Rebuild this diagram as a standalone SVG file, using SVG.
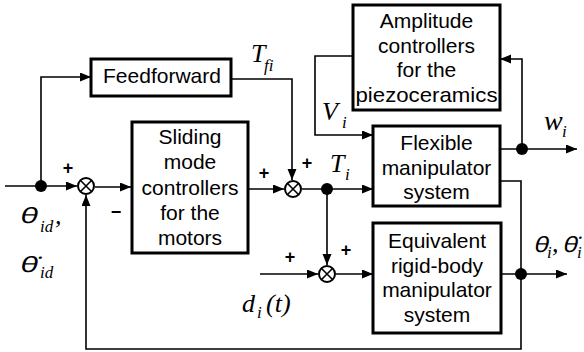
<svg xmlns="http://www.w3.org/2000/svg" width="584" height="352" viewBox="0 0 584 352">
<style>
.box{fill:#fff;stroke:#000;stroke-width:3}
.bt{font-family:"Liberation Sans",Arial,sans-serif;font-size:21px;text-anchor:middle;fill:#000}
.ln{fill:none;stroke:#000;stroke-width:1.6}
.arr{marker-end:url(#ah)}
.sum{fill:#fff;stroke:#000;stroke-width:2}
.dot{fill:#000}
.sg{font-family:"Liberation Sans",Arial,sans-serif;font-size:18px;font-weight:bold;text-anchor:middle;fill:#000}
.m{font-family:"Liberation Serif","Times New Roman",serif;font-style:italic;font-size:26px;fill:#000}
.s{font-family:"Liberation Serif","Times New Roman",serif;font-style:italic;font-size:17px;fill:#000}
.th{font-family:"Noto Sans",sans-serif;font-size:21px;fill:#000}
</style>
<defs>
<marker id="ah" markerUnits="userSpaceOnUse" markerWidth="12" markerHeight="10" refX="11" refY="4.5" orient="auto">
<path d="M0,0 L11,4.5 L0,9 z" fill="#000"/>
</marker>
</defs>
<rect width="584" height="352" fill="#fff"/>

<g id="connectors">
<path class="ln arr" d="M5,186 H77"/>
<path class="ln arr" d="M41,186 V77 H91"/>
<path class="ln arr" d="M95,187 H131"/>
<path class="ln arr" d="M248,189 H284"/>
<path class="ln arr" d="M231,79 H292 V180"/>
<path class="ln arr" d="M302,189 H373"/>
<path class="ln arr" d="M327,189 V265"/>
<path class="ln arr" d="M260,274 H318"/>
<path class="ln arr" d="M336,274 H373"/>
<path class="ln arr" d="M353,56 H315 V135 H373"/>
<path class="ln arr" d="M500,149 H577"/>
<path class="ln arr" d="M522,149 V59 H500"/>
<path class="ln arr" d="M500,181 H521 V349 H86 V195"/>
<path class="ln arr" d="M501,274 H567"/>
</g>

<g id="input-dot"><circle class="dot" cx="41" cy="186" r="6"/></g>
<g id="ti-dot"><circle class="dot" cx="327" cy="189" r="6"/></g>
<g id="w-dot"><circle class="dot" cx="522" cy="149" r="6"/></g>
<g id="theta-dot"><circle class="dot" cx="521" cy="274" r="6"/></g>

<g id="sum1"><circle class="sum" cx="86" cy="186" r="8"/><path class="ln" stroke-width="2" d="M80.3,180.3 L91.7,191.7 M91.7,180.3 L80.3,191.7"/></g>
<g id="sum2"><circle class="sum" cx="293" cy="189" r="8"/><path class="ln" stroke-width="2" d="M287.3,183.3 L298.7,194.7 M298.7,183.3 L287.3,194.7"/></g>
<g id="sum3"><circle class="sum" cx="327" cy="274" r="8"/><path class="ln" stroke-width="2" d="M321.3,268.3 L332.7,279.7 M332.7,268.3 L321.3,279.7"/></g>

<g id="feedforward">
<rect class="box" x="91" y="59" width="140" height="37"/>
<text class="bt" x="162" y="83">Feedforward</text>
</g>

<g id="sliding">
<rect class="box" x="132" y="122" width="116" height="131"/>
<text class="bt" x="190" y="144">Sliding</text>
<text class="bt" x="190" y="169">mode</text>
<text class="bt" x="190" y="195">controllers</text>
<text class="bt" x="190" y="220">for the</text>
<text class="bt" x="190" y="245">motors</text>
</g>

<g id="amplitude">
<rect class="box" x="353" y="5" width="147" height="105"/>
<text class="bt" x="426.5" y="28">Amplitude</text>
<text class="bt" x="426.5" y="52.5">controllers</text>
<text class="bt" x="426.5" y="77">for the</text>
<text class="bt" x="426.5" y="101.5" textLength="142" lengthAdjust="spacingAndGlyphs">piezoceramics</text>
</g>

<g id="flexible">
<rect class="box" x="373" y="126" width="127" height="80"/>
<text class="bt" x="436.5" y="150">Flexible</text>
<text class="bt" x="436.5" y="175">manipulator</text>
<text class="bt" x="436.5" y="199">system</text>
</g>

<g id="equivalent">
<rect class="box" x="373" y="223" width="128" height="110"/>
<text class="bt" x="437" y="248">Equivalent</text>
<text class="bt" x="437" y="272.5">rigid-body</text>
<text class="bt" x="437" y="297">manipulator</text>
<text class="bt" x="437" y="321.5">system</text>
</g>

<g id="signs">
<text class="sg" x="68" y="174">+</text>
<text class="sg" x="116" y="218">−</text>
<text class="sg" x="264" y="179">+</text>
<text class="sg" x="307" y="169">+</text>
<text class="sg" x="290" y="263">+</text>
<text class="sg" x="346" y="256">+</text>
</g>

<g id="labels">
<text class="m" x="251" y="62">T</text><text class="s" x="264" y="71">fi</text>
<text class="m" x="322" y="120">V</text><text class="s" x="342" y="128">i</text>
<text class="m" x="330" y="172">T</text><text class="s" x="345" y="180">i</text>
<text class="m" x="544" y="130" style="font-size:28px">w</text><text class="s" x="562" y="137">i</text>
<text class="th" transform="translate(19,223) skewX(-13) scale(1.45,1)">θ</text><text class="s" x="40" y="232">id</text><text class="m" x="55" y="224">,</text>
<text class="th" transform="translate(19,272) skewX(-13) scale(1.45,1)">θ̇</text><text class="s" x="40" y="278">id</text>
<text class="m" x="242" y="312">d</text><text class="s" x="257" y="318">i</text><text class="m" x="266" y="312">(t)</text>
<text class="th" transform="translate(533,252) skewX(-13) scale(1.2,1)">θ</text><text class="s" x="547" y="258">i</text><text class="m" x="552" y="252">,</text>
<text class="th" transform="translate(562,252) skewX(-13) scale(1.2,1)">θ̇</text><text class="s" x="577" y="258">i</text>
</g>
</svg>
